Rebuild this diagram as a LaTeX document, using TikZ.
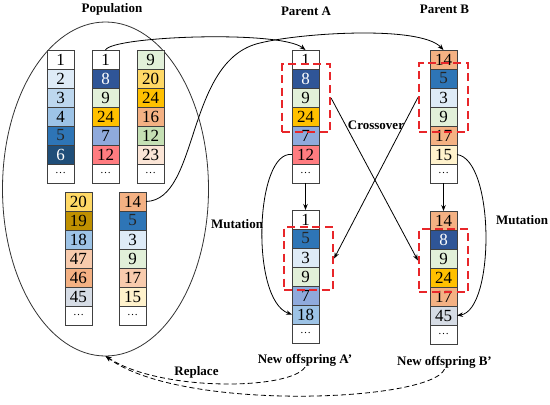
\documentclass[tikz,border=0pt]{standalone}
\usepackage{fontspec}
\setmainfont{Liberation Serif}
\usetikzlibrary{arrows.meta,fit,shapes.geometric}
\definecolor{cA}{HTML}{DEEBF7}
\definecolor{cB}{HTML}{BDD7EE}
\definecolor{cC}{HTML}{9DC3E6}
\definecolor{cD}{HTML}{2E75B6}
\definecolor{cE}{HTML}{1F4E79}
\definecolor{cN}{HTML}{2F5597}
\definecolor{cG}{HTML}{E2F0D9}
\definecolor{cGG}{HTML}{C5E0B4}
\definecolor{cY}{HTML}{FFD966}
\definecolor{cO}{HTML}{FFC000}
\definecolor{cP}{HTML}{8FAADC}
\definecolor{cR}{HTML}{FF7C80}
\definecolor{cS}{HTML}{F4B183}
\definecolor{cSS}{HTML}{F8CBAD}
\definecolor{cT}{HTML}{FBE5D6}
\definecolor{cBr}{HTML}{BF9000}
\definecolor{cGr}{HTML}{D6DCE5}
\definecolor{cCr}{HTML}{FFF2CC}
\definecolor{redd}{HTML}{E8262A}
\newcommand\celldots{{\fontsize{11pt}{11pt}\selectfont\ldots}}
\newcommand\gacol[4]{%
  \foreach \f/\tc/\t [count=\i] in {#4} {
    \node[cell, fill=\f, text=\tc] (#1-\i) at (#2+13.5, #3+9.5+19*\i-19) {\t};
  }}
\tikzset{
  cell/.style={rectangle, draw=black!75, line width=0.7pt, minimum width=27pt, minimum height=19pt,
    inner sep=0pt, outer sep=0pt, font=\fontsize{17pt}{17pt}\selectfont},
  redbox/.style={draw=redd, line width=2.2pt, dash pattern=on 8pt off 4.5pt, inner sep=0pt, rectangle},
  conn/.style={draw=black, line width=0.8pt, -{Stealth[length=6pt,width=4.5pt]}},
  dconn/.style={conn, dashed, dash pattern=on 5pt off 3pt},
  lab/.style={font=\fontsize{13pt}{13pt}\selectfont\bfseries, inner sep=1pt},
}
\begin{document}
\begin{tikzpicture}[x=1pt,y=-1pt]
\useasboundingbox (0,0) rectangle (550,405);
% population ellipse
\node[draw=black!80, line width=0.8pt, ellipse, minimum width=206pt, minimum height=334pt,
  inner sep=0pt, outer sep=0pt] (pop) at (105.5,189) {};
% population columns
\gacol{P1}{47}{50}{white/black/1, cA/black/2, cB/black/3, cC/black/4, cD/black!85/5, cE/white/6, white/black/\celldots}
\gacol{P2}{92}{50}{white/black/1, cN/white/8, cG/black/9, cO/black/24, cP/black/7, cR/black/12, white/black/\celldots}
\gacol{P3}{137}{50}{cG/black/9, cY/black/20, cO/black/24, cS/black/16, cGG/black/12, cT/black/23, white/black/\celldots}
\gacol{P4}{65}{192}{cY/black/20, cBr/black/19, cC/black/18, cSS/black/47, cS/black/46, cGr/black/45, white/black/\celldots}
\gacol{P5}{119}{192}{cS/black/14, cD/black!85/5, cA/black/3, cG/black/9, cSS/black/17, cCr/black/15, white/black/\celldots}
% parents
\gacol{PA}{292}{50}{white/black/1, cN/white/8, cG/black/9, cO/black/24, cP/black/7, cR/black/12, white/black/\celldots}
\gacol{PB}{430}{50}{cS/black/14, cD/black!85/5, cA/black/3, cG/black/9, cS/black/17, cCr/black/15, white/black/\celldots}
% offspring
\gacol{OA}{292}{210}{white/black/1, cD/black!85/5, cA/black/3, cG/black/9, cP/black/7, cC/black/18, white/black/\celldots}
\gacol{OB}{430}{211}{cS/black/14, cN/white/8, cG/black/9, cO/black/24, cS/black/17, cGr/black/45, white/black/\celldots}
% red boxes
\node[redbox, fit={(282,64)(330,132)}] (bA) {};
\node[redbox, fit={(419,63)(468,132)}] (bB) {};
\node[redbox, fit={(284,227)(333,290)}] (bOA) {};
\node[redbox, fit={(419,229)(468,292)}] (bOB) {};
% labels
\node[lab] (lpop) at (112,9) {Population};
\node[lab] (lpa) at (306,11) {Parent A};
\node[lab] (lpb) at (444.5,9) {Parent B};
\node[lab] (lcross) at (376,125) {Crossover};
\node[lab] (lmutA) at (237,224) {Mutation};
\node[lab] (lmutB) at (522,220) {Mutation};
\node[lab] (loa) at (305,360) {New offspring A’};
\node[lab] (lob) at (444.5,362) {New offspring B’};
\node[lab] (lrep) at (196.5,372) {Replace};
% selection connectors
\draw[conn] (P2-1.north) .. controls (112,36) and (280,30) .. (PA-1.north);
\draw[conn] (P5-1.east) .. controls (200,200) and (185,60) .. (260,43) .. controls (300,33) and (420,25) .. (PB-1.north);
% parent to offspring
\draw[conn] (PA-7.south) -- (OA-1.north);
\draw[conn] (PB-7.south) -- (OB-1.north);
% crossover
\draw[conn] (bA.east) -- (bOB.west);
\draw[conn] (bB.west) -- (bOA.east);
% mutation
\draw[conn] (PA-6.west) .. controls (255,150) and (250,300) .. (OA-6.west);
\draw[conn] (PB-6.east) .. controls (495,160) and (495,310) .. (OB-6.east);
% replace
\draw[dconn] (loa.south) .. controls (290,390) and (160,392) .. (pop.south);
\draw[dconn] (lob.south) .. controls (430,402) and (180,412) .. (pop.south);
\end{tikzpicture}
\end{document}
